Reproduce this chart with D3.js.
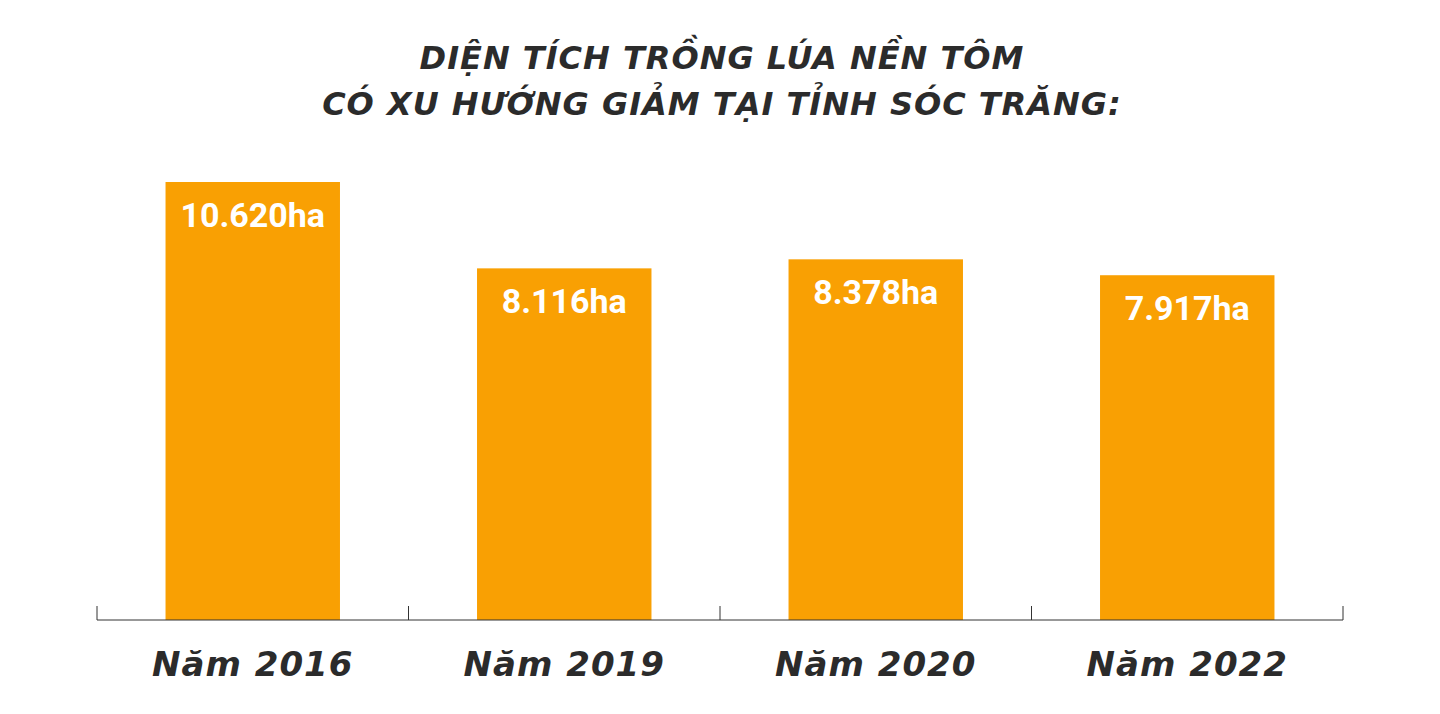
<!DOCTYPE html>
<html><head><meta charset="utf-8">
<script src="https://cdn.jsdelivr.net/npm/d3@7"></script>
<style>body{margin:0;background:#fff}</style>
</head><body>
<svg id="c" width="1440" height="714"></svg>
<script>
const years = ["Năm 2016", "Năm 2019", "Năm 2020", "Năm 2022"];
const values = [10620, 8116, 8378, 7917];
const labels = ["10.620ha", "8.116ha", "8.378ha", "7.917ha"];
const titleLines = ["DIỆN TÍCH TRỒNG LÚA NỀN TÔM", "CÓ XU HƯỚNG GIẢM TẠI TỈNH SÓC TRĂNG:"];

const svg = d3.select("#c");
const x = d3.scaleBand().domain(years).range([97, 1343]).paddingInner(0.44).paddingOuter(0.22);
const y = d3.scaleLinear().domain([-2080, 10620]).range([620, 182]);

svg.selectAll("text.title").data(titleLines).join("text")
  .attr("x", 722).attr("y", (d, i) => 69 + i * 46)
  .attr("text-anchor", "middle").attr("fill", "#2b2b2b")
  .style("font", "italic 900 32px 'DejaVu Sans'").style("letter-spacing", "1px")
  .text(d => d);

svg.selectAll("rect").data(values).join("rect")
  .attr("x", (d, i) => x(years[i])).attr("width", x.bandwidth())
  .attr("y", d => y(d)).attr("height", d => y(-2080) - y(d))
  .attr("fill", "#F9A003");

svg.selectAll("text.val").data(values).join("text")
  .attr("x", (d, i) => x(years[i]) + x.bandwidth() / 2)
  .attr("y", d => y(d) + 45)
  .attr("text-anchor", "middle").attr("fill", "#fff")
  .style("font", "bold 34px 'Liberation Sans Narrow', 'Roboto'")
  .text((d, i) => labels[i]);

const step = x.step();
const ax = svg.append("g");
ax.append("line").attr("x1", 97).attr("x2", 1343).attr("y1", 620).attr("y2", 620).attr("stroke", "#333");
ax.selectAll("line.t").data(d3.range(years.length + 1)).join("line")
  .attr("x1", i => 97 + i * (1246 / years.length)).attr("x2", i => 97 + i * (1246 / years.length))
  .attr("y1", 606).attr("y2", 620).attr("stroke", "#333");

svg.selectAll("text.yr").data(years).join("text")
  .attr("x", d => x(d) + x.bandwidth() / 2).attr("y", 676)
  .attr("text-anchor", "middle").attr("fill", "#2b2b2b")
  .style("font", "italic 900 34px 'DejaVu Sans'").style("letter-spacing", "1px")
  .text(d => d);
</script>
</body></html>
